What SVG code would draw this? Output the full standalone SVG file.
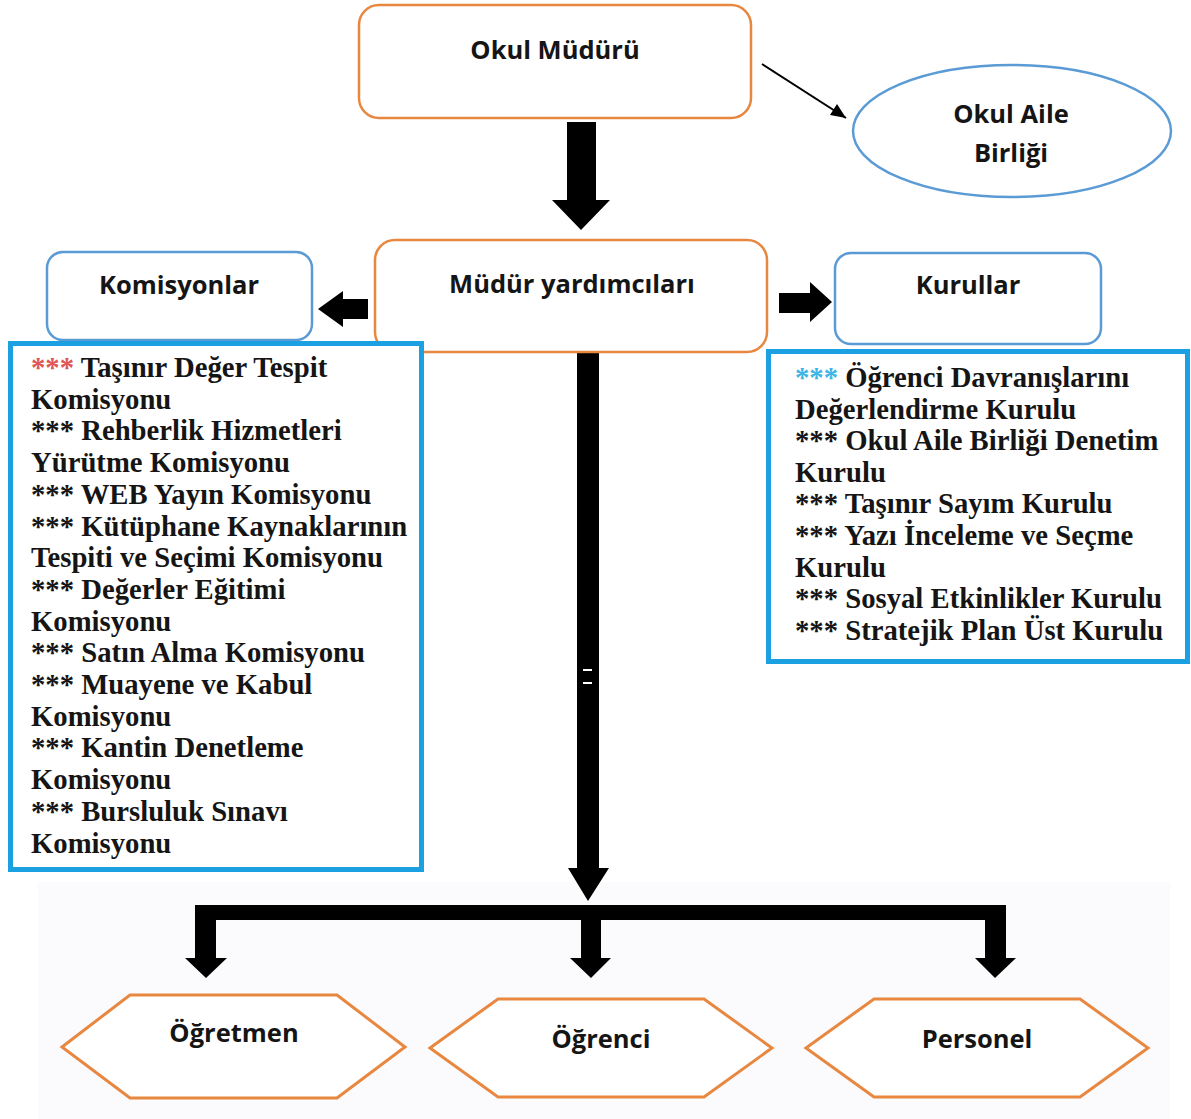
<svg xmlns="http://www.w3.org/2000/svg" width="1191" height="1119" viewBox="0 0 1191 1119">
<defs>
<style>
.orange{fill:#fff;stroke:#E8873F;stroke-width:2.5}
.blue{fill:#fff;stroke:#5B9BD5;stroke-width:2.5}
.list{fill:#fff;stroke:#1BA1E2;stroke-width:5}
.hex{fill:#fff;stroke:#E8873F;stroke-width:3}
.lbl{font-family:"Open Sans","Liberation Sans",sans-serif;font-weight:bold;font-size:25.5px;fill:#151515;text-anchor:middle}
.item{font-family:"Liberation Serif","Times New Roman",serif;font-weight:bold;font-size:28.7px;fill:#151515}
.blk{fill:#000}
</style>
</defs>
<rect x="0" y="0" width="1191" height="1119" fill="#fff"/>
<rect x="38" y="882" width="1132" height="237" fill="#FBFBFD"/>

<g id="connectors">
<line x1="762" y1="64" x2="846" y2="118" stroke="#000" stroke-width="2"/>
<path d="M846,118 L830,115 L837,104 z" fill="#000"/>
<polygon class="blk" points="567,122 596,122 596,200 610,200 581,230 552,200 567,200"/>
<polygon class="blk" points="368,299 343,299 343,291 318,309 343,327 343,319 368,319"/>
<polygon class="blk" points="779,293 810,293 810,282 832,302 810,322 810,313 779,313"/>
<polygon class="blk" points="577,352 599,352 599,868 609,868 588,901 568,868 577,868"/>
<rect x="583" y="669" width="9" height="2" fill="#fff"/>
<rect x="583" y="682" width="9" height="2" fill="#fff"/>
<rect class="blk" x="195" y="905" width="811" height="15"/>
<polygon class="blk" points="195,905 216,905 216,958 227,958 206,978 185,958 195,958"/>
<polygon class="blk" points="581,915 601,915 601,958 611,958 591,978 570,958 581,958"/>
<polygon class="blk" points="985,905 1006,905 1006,958 1016,958 995,978 975,958 985,958"/>
</g>

<g id="okul-muduru">
<rect class="orange" x="359" y="5" width="392" height="113" rx="20"/>
<text class="lbl" x="555" y="59">Okul Müdürü</text>
</g>

<g id="okul-aile-birligi">
<ellipse cx="1012" cy="131" rx="159" ry="66" fill="#fff" stroke="#5B9BD5" stroke-width="2.5"/>
<text class="lbl" x="1011" y="123">Okul Aile</text>
<text class="lbl" x="1011" y="162">Birliği</text>
</g>

<g id="mudur-yardimcilari">
<rect class="orange" x="375" y="240" width="392" height="112" rx="20"/>
<text class="lbl" x="572" y="293">Müdür yardımcıları</text>
</g>

<g id="komisyonlar">
<rect class="blue" x="47" y="252" width="265" height="88" rx="16"/>
<text class="lbl" x="179" y="294">Komisyonlar</text>
</g>

<g id="kurullar">
<rect class="blue" x="835" y="253" width="266" height="91" rx="16"/>
<text class="lbl" x="968" y="294">Kurullar</text>
</g>

<g id="komisyon-listesi">
<rect class="list" x="10.5" y="343.5" width="411" height="526"/>
<text class="item" x="31" y="377"><tspan fill="#E05555">***</tspan> Taşınır Değer Tespit</text>
<text class="item" x="31" y="408.7">Komisyonu</text>
<text class="item" x="31" y="440.4">*** Rehberlik Hizmetleri</text>
<text class="item" x="31" y="472">Yürütme Komisyonu</text>
<text class="item" x="31" y="503.8">*** WEB Yayın Komisyonu</text>
<text class="item" x="31" y="535.5">*** Kütüphane Kaynaklarının</text>
<text class="item" x="31" y="567.2">Tespiti ve Seçimi Komisyonu</text>
<text class="item" x="31" y="598.9">*** Değerler Eğitimi</text>
<text class="item" x="31" y="630.6">Komisyonu</text>
<text class="item" x="31" y="662.3">*** Satın Alma Komisyonu</text>
<text class="item" x="31" y="694">*** Muayene ve Kabul</text>
<text class="item" x="31" y="725.7">Komisyonu</text>
<text class="item" x="31" y="757.4">*** Kantin Denetleme</text>
<text class="item" x="31" y="789.1">Komisyonu</text>
<text class="item" x="31" y="820.8">*** Bursluluk Sınavı</text>
<text class="item" x="31" y="852.5">Komisyonu</text>
</g>

<g id="kurul-listesi">
<rect class="list" x="768.5" y="351.5" width="419" height="310"/>
<text class="item" x="795" y="387"><tspan fill="#3DB5E6">***</tspan> Öğrenci Davranışlarını</text>
<text class="item" x="795" y="418.6">Değerlendirme Kurulu</text>
<text class="item" x="795" y="450.2">*** Okul Aile Birliği Denetim</text>
<text class="item" x="795" y="481.8">Kurulu</text>
<text class="item" x="795" y="513.4">*** Taşınır Sayım Kurulu</text>
<text class="item" x="795" y="545">*** Yazı İnceleme ve Seçme</text>
<text class="item" x="795" y="576.6">Kurulu</text>
<text class="item" x="795" y="608.2">*** Sosyal Etkinlikler Kurulu</text>
<text class="item" x="795" y="639.8">*** Stratejik Plan Üst Kurulu</text>
</g>

<g id="ogretmen">
<polygon class="hex" points="62,1047 130,995 337,995 405,1047 337,1098 130,1098"/>
<text class="lbl" x="234" y="1042">Öğretmen</text>
</g>

<g id="ogrenci">
<polygon class="hex" points="430,1048 498,999 704,999 772,1048 704,1097 498,1097"/>
<text class="lbl" x="601" y="1048">Öğrenci</text>
</g>

<g id="personel">
<polygon class="hex" points="806,1048 874,999 1080,999 1148,1048 1080,1097 874,1097"/>
<text class="lbl" x="977" y="1048">Personel</text>
</g>
</svg>
